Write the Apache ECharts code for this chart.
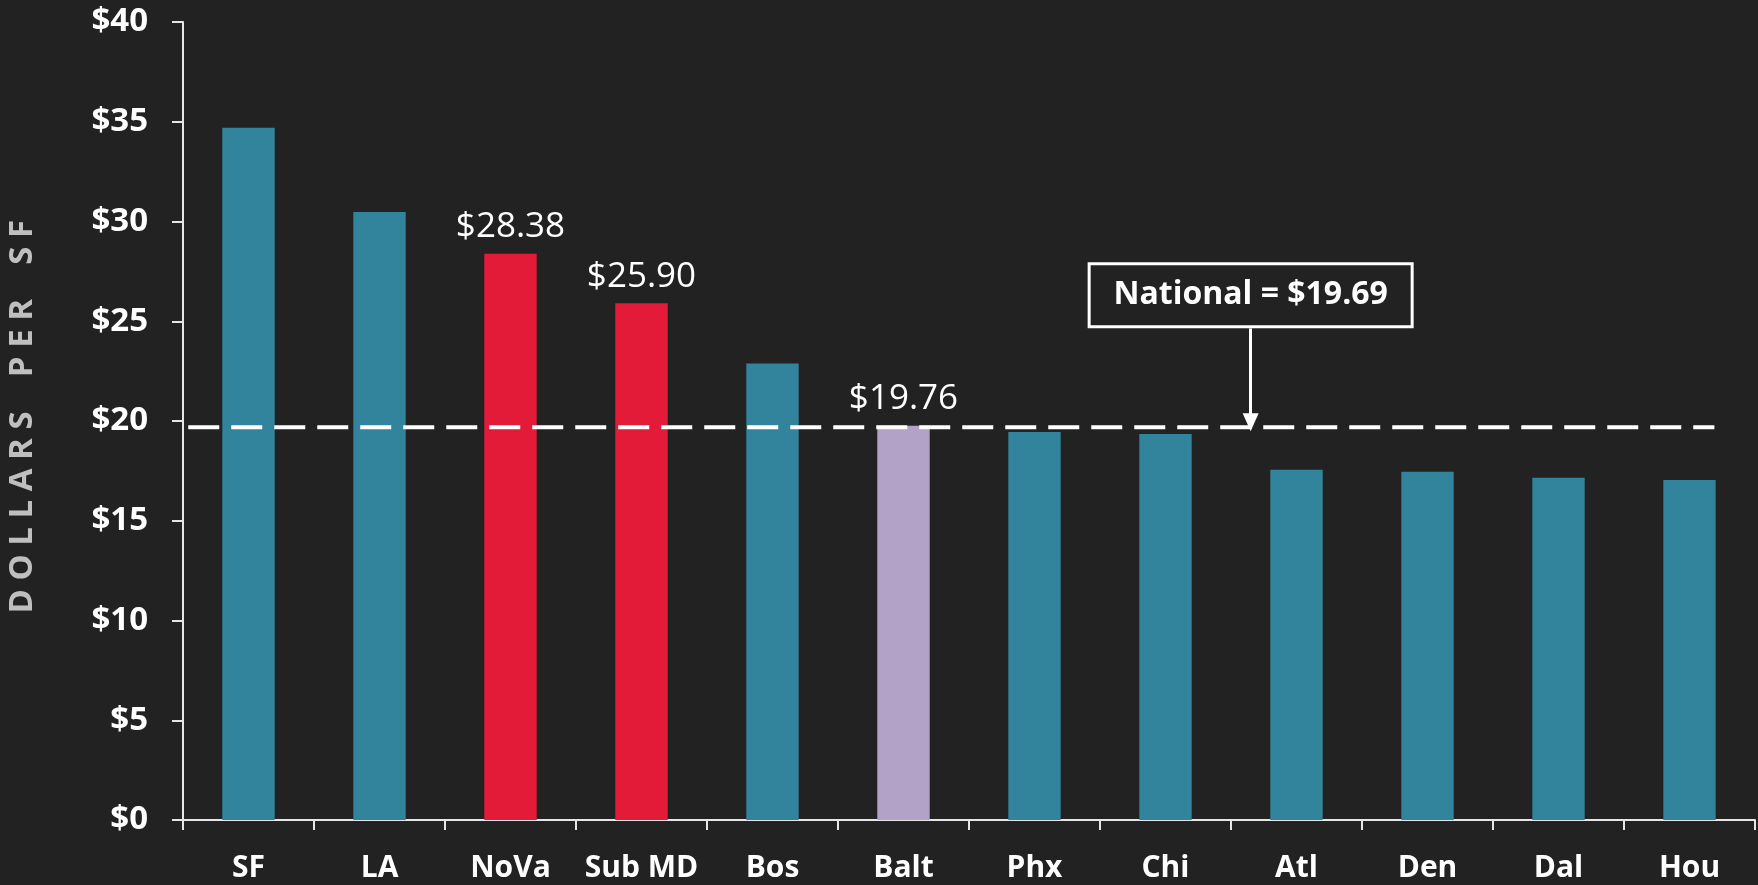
<!DOCTYPE html>
<html><head><meta charset="utf-8">
<script src="https://cdn.jsdelivr.net/npm/echarts@6/dist/echarts.min.js"></script>
<style>html,body{margin:0;padding:0;background:#222222;}#c{width:1758px;height:885px;}</style>
</head><body><div id="c"></div>
<script>
// ---- data ----
const categories = ['SF', 'LA', 'NoVa', 'Sub MD', 'Bos', 'Balt', 'Phx', 'Chi', 'Atl', 'Den', 'Dal', 'Hou'];
const rents = [34.70, 30.48, 28.38, 25.90, 22.88, 19.76, 19.45, 19.35, 17.56, 17.46, 17.16, 17.04];
const yTickValues = [0, 5, 10, 15, 20, 25, 30, 35, 40];
const nationalAverage = 19.69;
const nationalLabel = 'National = $19.69';
const yAxisTitleWords = ['DOLLARS', 'PER', 'SF'];
const redMarkets = ['NoVa', 'Sub MD'];
const purpleMarkets = ['Balt'];
const labelledMarkets = ['NoVa', 'Sub MD', 'Balt'];
// annotation anchors (category-index units / dollar units)
const nationalLineSpan = [-0.46, 11.19];
const calloutX = 7.65;
const calloutBoxValue = 26.3;
const calloutArrowTop = 24.64;

const FONT = 'Open Sans';
const TEAL = '#31849B', RED = '#E31A38', PURPLE = '#B3A2C7', AXIS = '#E6E6E6';

const yTitle = ' ' + yAxisTitleWords.map(w => w.split('').join(' ')).join('    ');

const chart = echarts.init(document.getElementById('c'));
const barData = categories.map((c, i) => ({
  value: rents[i],
  itemStyle: { color: redMarkets.includes(c) ? RED : (purpleMarkets.includes(c) ? PURPLE : TEAL) },
  label: { show: labelledMarkets.includes(c) }
}));

chart.setOption({
  backgroundColor: '#222222',
  animation: false,
  grid: { left: 183, right: 3, top: 22, bottom: 65, containLabel: false, outerBoundsMode: 'none' },
  xAxis: [{
    type: 'category',
    data: categories,
    axisLine: { onZero: false, lineStyle: { color: AXIS, width: 2 } },
    axisTick: { show: true, length: 10, lineStyle: { color: AXIS, width: 2 } },
    axisLabel: { color: '#FFFFFF', fontFamily: FONT, fontWeight: 'bold', fontSize: 30, margin: 33, interval: 0 }
  }, {
    type: 'value', min: -0.5, max: 11.5, show: false,
    axisLine: { onZero: false }
  }],
  yAxis: {
    type: 'value',
    min: yTickValues[0], max: yTickValues[yTickValues.length - 1], interval: yTickValues[1] - yTickValues[0],
    name: yTitle,
    nameLocation: 'middle', nameRotate: 90, nameGap: 144,
    nameTextStyle: { color: '#BFBFBF', fontFamily: FONT, fontWeight: 'bold', fontSize: 33 },
    axisLine: { show: true, onZero: false, lineStyle: { color: AXIS, width: 2 } },
    axisTick: { show: true, length: 11, lineStyle: { color: AXIS, width: 2 } },
    axisLabel: { color: '#FFFFFF', fontFamily: FONT, fontWeight: 'bold', fontSize: 33, margin: 35, formatter: v => '$' + v },
    splitLine: { show: false }
  },
  series: [{
    type: 'bar',
    data: barData,
    barWidth: '40%',
    label: { position: 'top', distance: 9, color: '#FFFFFF', fontFamily: FONT, fontSize: 35, formatter: p => '$' + p.value.toFixed(2) }
  }, {
    type: 'line',
    xAxisIndex: 1,
    data: nationalLineSpan.map(x => [x, nationalAverage]),
    symbol: 'none',
    clip: false,
    lineStyle: { color: '#FFFFFF', width: 4, type: [31, 12] },
    z: 5,
    markLine: {
      silent: true,
      symbol: ['none', 'triangle'],
      symbolSize: [16, 18],
      lineStyle: { color: '#FFFFFF', width: 3, type: 'solid' },
      label: { show: false },
      data: [[{ coord: [calloutX, calloutArrowTop] }, { coord: [calloutX, nationalAverage + 0.25] }]]
    },
    markPoint: {
      silent: true,
      symbol: 'circle',
      symbolSize: 1,
      itemStyle: { color: 'rgba(0,0,0,0)' },
      label: {
        show: true, position: 'inside', color: '#FFFFFF', fontFamily: FONT, fontWeight: 'bold', fontSize: 32,
        backgroundColor: '#222222', borderColor: '#FFFFFF', borderWidth: 3,
        width: 320, height: 60, align: 'center', verticalAlign: 'middle', lineHeight: 60,
        formatter: nationalLabel
      },
      data: [{ coord: [calloutX, calloutBoxValue] }]
    }
  }]
});
</script></body></html>
